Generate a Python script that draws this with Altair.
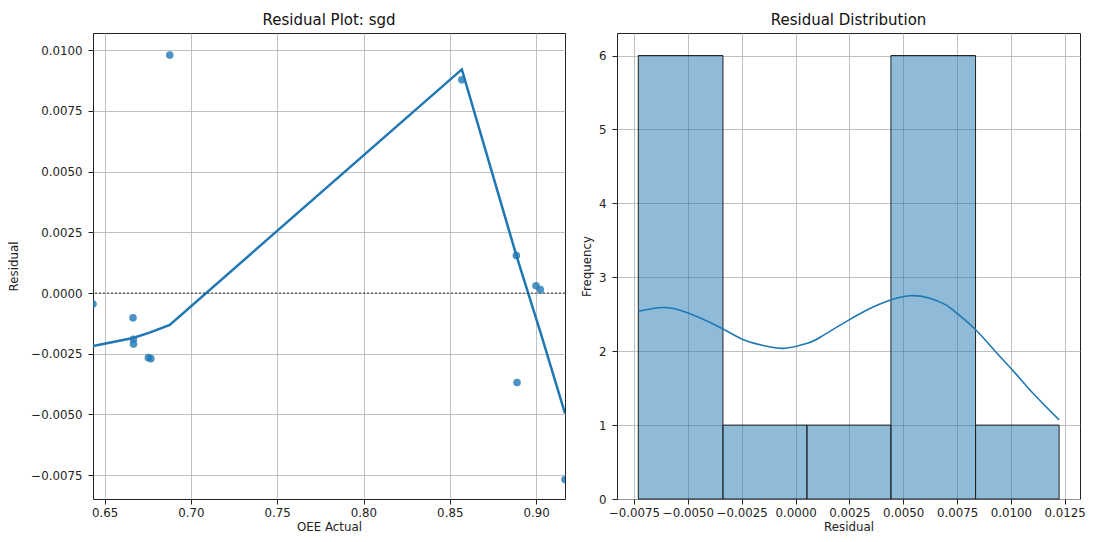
import altair as alt
import pandas as pd

# ---- Left panel: residual scatter ----
oee_actual = [0.6432, 0.6664, 0.6666, 0.6667, 0.6753, 0.6767, 0.6877, 0.8570, 0.8886, 0.8890, 0.9000, 0.9025, 0.9168]
residual = [-0.00045, -0.00102, -0.00190, -0.00210, -0.00266, -0.00270, 0.00980, 0.00878, 0.00155, -0.00368, 0.00030, 0.00014, -0.00768]

# smoothed fit line
fit_x = [0.6432, 0.6664, 0.6760, 0.6877, 0.8570, 0.8886, 0.9025, 0.9168]
fit_y = [-0.00218, -0.00185, -0.00163, -0.00131, 0.00921, 0.00155, -0.00160, -0.00495]

# ---- Right panel: histogram ----
bin_start = [-0.00730, -0.00337, 0.00053, 0.00443, 0.00836]
bin_end = [-0.00337, 0.00053, 0.00443, 0.00836, 0.01224]
counts = [6, 1, 1, 6, 1]

kde_x = [-0.00730, -0.00616, -0.00502, -0.00343, -0.00229, -0.00123, -0.00047, 0.00059,
         0.00127, 0.00241, 0.00355, 0.00438, 0.00529, 0.00620, 0.00696, 0.00742,
         0.00833, 0.00924, 0.01015, 0.01106, 0.01224]
kde_y = [2.54, 2.59, 2.52, 2.31, 2.14, 2.06, 2.04, 2.11,
         2.21, 2.41, 2.59, 2.69, 2.75, 2.72, 2.63, 2.53,
         2.30, 2.01, 1.72, 1.42, 1.07]

x_ticks_left = [0.65, 0.70, 0.75, 0.80, 0.85, 0.90]
y_ticks_left = [-0.0075, -0.005, -0.0025, 0.0, 0.0025, 0.005, 0.0075, 0.01]
x_ticks_right = [-0.0075, -0.005, -0.0025, 0.0, 0.0025, 0.005, 0.0075, 0.01, 0.0125]
y_ticks_right = [0, 1, 2, 3, 4, 5, 6]

BLUE = "#1f77b4"
FONT = "DejaVu Sans"
H = 466
WL, WR = 472, 463

scatter_df = pd.DataFrame({"x": oee_actual, "y": residual})
fit_df = pd.DataFrame({"x": fit_x, "y": fit_y})
zero_df = pd.DataFrame({"y": [0.0]})
hist_df = pd.DataFrame({"b0": bin_start, "b1": bin_end, "c": counts})
kde_df = pd.DataFrame({"x": kde_x, "y": kde_y})

def ax(title, values, fmt, title_pad, label_pad):
    return alt.Axis(title=title, values=values, format=fmt, grid=True,
                    gridColor="#b0b0b0", gridWidth=0.8, domain=False,
                    tickSize=5, tickColor="#222", labelPadding=label_pad, titlePadding=title_pad,
                    labelFontSize=11.8, titleFontSize=11.8, labelFont=FONT, titleFont=FONT,
                    labelColor="#222", titleColor="#222", titleFontWeight="normal")

xl = alt.X("x:Q", scale=alt.Scale(domain=[0.6432, 0.9168], nice=False, zero=False),
           axis=ax("OEE Actual", x_ticks_left, ".2f", 3, 3))
yl = alt.Y("y:Q", scale=alt.Scale(domain=[-0.00848, 0.01071], nice=False, zero=False),
           axis=ax("Residual", y_ticks_left, ".4f", 11, 6))

pts = alt.Chart(scatter_df).mark_circle(size=58, color=BLUE, opacity=0.8, clip=True).encode(x=xl, y=yl)
fit = alt.Chart(fit_df).mark_line(color=BLUE, strokeWidth=2.5, clip=True).encode(x=xl, y=yl)
zero = alt.Chart(zero_df).mark_rule(color="#333", strokeWidth=1, strokeDash=[2, 2]).encode(y=yl)

left = alt.layer(fit, zero, pts).properties(
    width=WL, height=H,
    title=alt.TitleParams("Residual Plot: sgd", fontSize=15, font=FONT, fontWeight="normal",
                          color="#111", offset=5, anchor="middle"))

xs = alt.Scale(domain=[-0.00829, 0.01321], nice=False, zero=False)
ys = alt.Scale(domain=[0, 6.305], nice=False)
xr = alt.X("b0:Q", scale=xs, axis=ax("Residual", x_ticks_right, ".4f", 3, 3))
yr = alt.Y("c:Q", scale=ys, axis=ax("Frequency", y_ticks_right, "d", 6, 6))

bars = alt.Chart(hist_df).mark_rect(color=BLUE, fillOpacity=0.5, stroke="#222", strokeWidth=1).encode(
    x=xr, x2="b1:Q", y=yr, y2=alt.datum(0))
kde = alt.Chart(kde_df).mark_line(color=BLUE, strokeWidth=1.6, interpolate="natural").encode(
    x=alt.X("x:Q", scale=xs), y=alt.Y("y:Q", scale=ys))

right = alt.layer(bars, kde).properties(
    width=WR, height=H,
    title=alt.TitleParams("Residual Distribution", fontSize=15, font=FONT, fontWeight="normal",
                          color="#111", offset=5, anchor="middle"))

chart = alt.hconcat(left, right, spacing=14).properties(
    padding={"left": 0, "top": 4, "right": 0, "bottom": 0},
    background="white"
).configure_view(stroke="#222", strokeWidth=1)

chart.save("out.html", embed_options={"renderer": "svg", "actions": False})
